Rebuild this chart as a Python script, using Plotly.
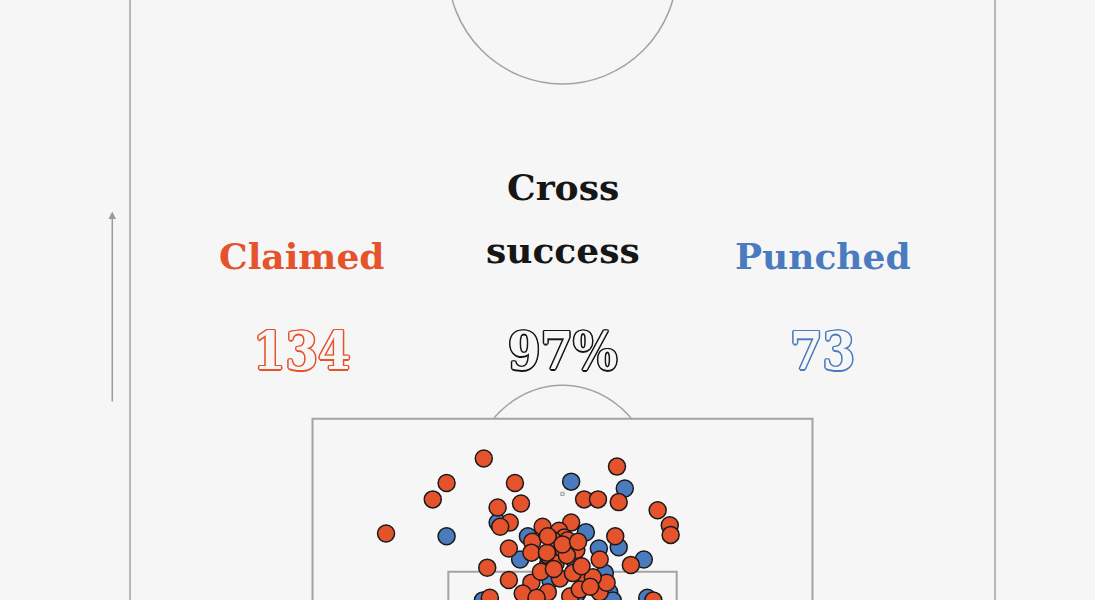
import numpy as np
import plotly.graph_objects as go

# ---------------- data (Opta pitch units: x across 0-100, y along 0-100, goal at y=100)
claimed_x = [40.9, 56.3, 36.6, 44.5, 35.0, 52.5, 54.1, 56.5, 42.5, 45.2, 61.0, 62.4, 62.5,
             29.6, 43.9, 42.8, 47.7, 51.0, 49.6, 50.2, 46.5, 56.1, 43.8, 46.4, 49.4, 51.6,
             48.3, 49.2, 54.3, 57.9, 41.3, 43.8, 46.4, 49.7, 54.3, 52.8, 50.9, 45.4, 41.6,
             60.5, 55.1, 48.9, 50.6, 48.2, 50.5, 51.2, 53.5, 52.0, 48.3, 47.0, 48.3,
             47.5, 50.0, 52.2, 49.0, 51.8, 53.2]
claimed_y = [85.9, 86.5, 87.7, 87.7, 88.9, 88.9, 88.9, 89.1, 89.5, 89.2, 89.7, 90.8, 91.5,
             91.4, 90.6, 90.9, 90.9, 90.6, 91.2, 91.7, 92.0, 91.6, 92.5, 92.8, 92.5, 92.6,
             93.0, 93.6, 93.3, 93.7, 93.9, 94.8, 95.0, 94.7, 95.7, 94.8, 96.0, 95.8, 96.1,
             96.3, 95.0, 91.9, 91.9, 92.8, 93.0, 94.3, 94.6, 95.5, 95.7, 96.1, 91.6,
             94.2, 92.2, 93.8, 94.0, 92.0, 95.3]
punched_x = [51.0, 57.2, 36.6, 42.5, 46.0, 52.7, 54.2, 56.5, 59.4, 45.1, 51.3, 54.9, 48.6,
             53.0, 55.4, 59.8, 48.3, 40.8, 48.2, 51.7, 55.8]
punched_y = [87.6, 88.1, 91.6, 90.6, 91.6, 91.3, 92.5, 92.4, 93.3, 93.3, 93.3, 94.3, 94.8,
             95.0, 95.7, 96.1, 93.7, 96.3, 91.4, 95.8, 96.3]

claimed_total = "134"
punched_total = "73"
success_rate = "97%"

ORANGE = "#E5532D"
BLUE = "#4A7BBE"
BG = "#F6F6F6"
LINE = "#A3A3A3"

fig = go.Figure()
fig.add_trace(go.Scatter(x=punched_x, y=punched_y, mode="markers", name="Punched",
                         marker=dict(size=17, color=BLUE, line=dict(color="#1A1A1A", width=1.5)),
                         hoverinfo="skip"))
fig.add_trace(go.Scatter(x=claimed_x, y=claimed_y, mode="markers", name="Claimed",
                         marker=dict(size=17, color=ORANGE, line=dict(color="#1A1A1A", width=1.5)),
                         hoverinfo="skip"))

# ---------------- pitch markings
shapes = []
ln = dict(color=LINE, width=1.5)
shapes.append(dict(type="line", x0=0, x1=0, y0=40, y1=100, xref="x", yref="y", line=ln, layer="below"))
shapes.append(dict(type="line", x0=100, x1=100, y0=40, y1=100, xref="x", yref="y", line=ln, layer="below"))
shapes.append(dict(type="rect", x0=21.1, x1=78.9, y0=83, y1=100, xref="x", yref="y",
                   line=dict(color=LINE, width=2), layer="below"))
shapes.append(dict(type="rect", x0=36.8, x1=63.2, y0=94.2, y1=100, xref="x", yref="y",
                   line=dict(color=LINE, width=2), layer="below"))
shapes.append(dict(type="circle", x0=50 - 13.25, x1=50 + 13.25, y0=50 - 8.47, y1=50 + 8.47,
                   xref="x", yref="y", line=ln, layer="below"))
shapes.append(dict(type="rect", x0=49.8, x1=50.2, y0=88.38, y1=88.62, xref="x", yref="y",
                   line=dict(color=LINE, width=1), fillcolor="#DDDDDD", layer="below"))
# penalty arc
rx, ry = 11.06, 7.96
t = np.linspace(0, np.pi, 200)
ax_ = 50 + rx * np.cos(t)
ay_ = 88.5 - ry * np.sin(t)
mask = ay_ <= 83
path = "M " + " L ".join(f"{a:.3f},{b:.3f}" for a, b in zip(ax_[mask], ay_[mask]))
shapes.append(dict(type="path", path=path, xref="x", yref="y", line=ln, layer="below"))

fig.update_layout(shapes=shapes)

# ---------------- texts
W, H = 1095, 600


def px(xp):
    return xp / W


def py(yp):
    return 1 - yp / H


head_font = dict(family="DejaVu Serif", size=36, weight="bold")
anns = []
anns.append(dict(text="Cross", x=px(563), y=py(187), font=dict(head_font, color="#161616")))
anns.append(dict(text="success", x=px(563), y=py(250), font=dict(head_font, color="#161616")))
anns.append(dict(text="Claimed", x=px(302), y=py(256), font=dict(head_font, color=ORANGE)))
anns.append(dict(text="Punched", x=px(823), y=py(256), font=dict(head_font, color=BLUE)))


def outline(c):
    d = 1.5
    return ", ".join(f"{dx}px {dy}px 0 {c}" for dx, dy in
                     [(d, 0), (-d, 0), (0, d), (0, -d), (1, 1), (-1, -1), (1, -1), (-1, 1)])


num_family = "DejaVu Serif Condensed, DejaVu Serif"
for txt, xx, col in [(claimed_total, 302, ORANGE), (success_rate, 563, "#161616"), (punched_total, 823, BLUE)]:
    anns.append(dict(text=txt, x=px(xx), y=py(350),
                     font=dict(family=num_family, size=52, weight="bold", color=BG, shadow=outline(col))))

for a in anns:
    a.update(xref="paper", yref="paper", xanchor="center", yanchor="middle", showarrow=False)

# direction arrow
anns.append(dict(x=-2.05, y=67.82, ax=-2.05, ay=81.84, xref="x", yref="y", axref="x", ayref="y",
                 text="", showarrow=True, arrowhead=2, arrowsize=1, arrowwidth=1.5, arrowcolor="#9A9A9A"))

fig.update_layout(annotations=anns)

fig.update_layout(
    width=W, height=H,
    margin=dict(l=0, r=0, t=0, b=0),
    paper_bgcolor=BG, plot_bgcolor=BG,
    showlegend=False,
    xaxis=dict(range=[-15.03, 111.56], visible=False, fixedrange=True),
    yaxis=dict(range=[96.27, 52.32], visible=False, fixedrange=True),
)

fig.write_html("out.html", config={"displayModeBar": False},
               post_script="document.body.style.margin='0';document.body.style.overflow='hidden';"
                           "document.body.style.background='" + BG + "';")
